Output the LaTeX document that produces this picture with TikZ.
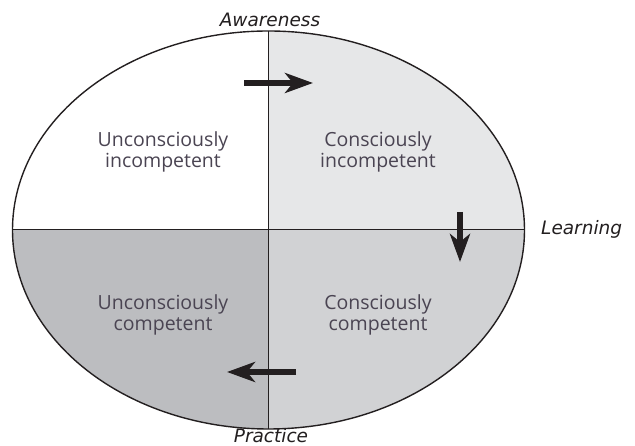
\documentclass[tikz,border=0pt]{standalone}
\usepackage{fontspec}
\setmainfont{Open Sans}
\newfontfamily\labelfont{DejaVu Sans}
\usetikzlibrary{arrows.meta}

\definecolor{paleq}{HTML}{E6E7E8}
\definecolor{midq}{HTML}{D1D2D4}
\definecolor{darkq}{HTML}{BCBDC0}
\definecolor{quadink}{HTML}{4A4452}
\definecolor{labelink}{HTML}{231F20}

\begin{document}
\begin{tikzpicture}[x=1pt,y=1pt,
  quadtext/.style={align=center,text=quadink,font=\fontsize{19.5}{20.5}\selectfont},
  axislabel/.style={text=labelink,inner sep=0pt,font=\labelfont\itshape\fontsize{18.5}{20}\selectfont},
  movearrow/.style={line width=6pt,labelink,-{Stealth[length=28pt,width=20pt,inset=8pt]}}]

\useasboundingbox (0,0) rectangle (635,446);

\coordinate (mid) at (268.5,216);
\coordinate (top) at (268.5,415);
\coordinate (bottom) at (268.5,17);
\coordinate (west) at (12.5,216);
\coordinate (east) at (524.5,216);

% shaded quarters
\begin{scope}
  \clip (mid) ellipse [x radius=256, y radius=199];
  \fill[paleq] (mid) rectangle +(260,200);
  \fill[midq] (mid) rectangle +(260,-200);
  \fill[darkq] (mid) rectangle +(-260,-200);
\end{scope}

% outline and axes
\draw[labelink,line width=1.4pt] (mid) ellipse [x radius=256, y radius=199];
\draw[labelink,line width=1pt] (top) -- (bottom);
\draw[labelink,line width=1pt] (west) -- (east);

\node[axislabel,anchor=base] (aware) at (270,419) {Awareness};
\node[axislabel,anchor=base west] (learn) at (541,211) {Learning};
\node[axislabel,anchor=base] (practice) at (271,3.5) {Practice};

\node[quadtext] (ui) at (163,294) {Unconsciously\\incompetent};
\node[quadtext] (ci) at (378,294) {Consciously\\incompetent};
\node[quadtext] (uc) at (163,131) {Unconsciously\\competent};
\node[quadtext] (cc) at (378,131) {Consciously\\competent};

% stage arrows
\coordinate (a1) at (244,363);
\coordinate (a2) at (313,363);
\coordinate (b1) at (460,234);
\coordinate (b2) at (460,184);
\coordinate (c1) at (296,74);
\coordinate (c2) at (227,74);
\draw[movearrow] (a1) -- (a2);
\draw[movearrow] (b1) -- (b2);
\draw[movearrow] (c1) -- (c2);

\end{tikzpicture}
\end{document}
